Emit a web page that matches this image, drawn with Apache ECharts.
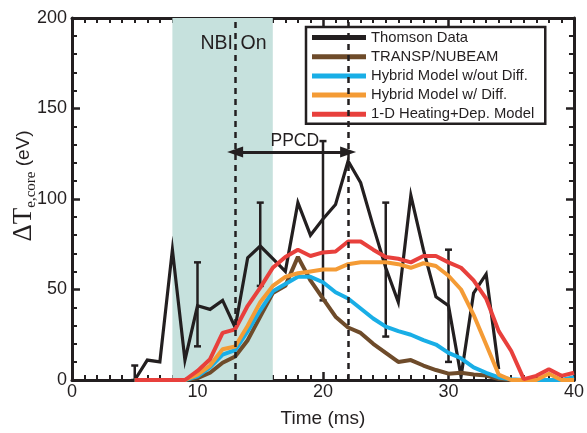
<!DOCTYPE html>
<html>
<head>
<meta charset="utf-8">
<script src="https://cdn.jsdelivr.net/npm/echarts@6/dist/echarts.min.js"></script>
<style>
html,body{margin:0;padding:0;background:#fff;}
#chart{width:587px;height:433px;}
</style>
</head>
<body>
<div id="chart"></div>
<script>
// ---- data ----
const thomsonTime = [5,6,7,8,9,10,11,12,13,14,15,16,17,18,19,20,21,22,23,24,25,26,27,28,29,30,31,32,33,34];
const thomsonTe   = [0,11,10,72,11,41,39,44,29,67.5,74,67,60,98,80,89,97,121,109,85,62,43,102,72,46,41,2,48,58.5,6];

const errorTime = [5,10,15,20,25,30];
const errorLow  = [0,18.6,52,44,24,10];
const errorHigh = [8,65,98,132,98,72];

const modelTime = [5,6,7,8,9,10,11,12,13,14,15,16,17,18,19,20,21,22,23,24,25,26,27,28,29,30,31,32,33,34,35,36,37,38,39,40];
const transpNubeam = [0,0,0,0,0, 1,4,9.5,13,22, 35,48,52,68,55, 45,35,29,26,20, 15,10,11,8,5.5, 3.5,4,3,2.5,0.5, 0,0,0,0,0, 0];
const hybridNoDiff = [0,0,0,0,0, 2,7,14,16.5,27, 38.5,49,53,57,57, 54,48.5,45,39.5,34, 29.5,27,25,22,19.6, 15,12,7,4,1.4, 0.4,0,0,0,0, 1.5];
const hybridDiff   = [0,0,0,0,0, 3,8,17,18.5,30, 43,52,57,59,60, 61,61,64,65,65, 65,64,62,64.5,63, 57.6,50,36,19.6,3, 0,0,0,3.5,0, 0];
const heating1D    = [0,0,0,0,0, 5,11.5,26,28,41, 51,62,68,72,68.5, 70.5,71,76.5,76.5,72, 68,67,65,68.5,68.5, 65,62,55,45,27, 16,0.5,2.3,6,2.3, 4];

const nbiStart = 8, nbiEnd = 16;
const ppcdStart = 13, ppcdEnd = 22;
const ppcdArrowLevel = 126;

const xTicks = {min: 0, max: 40, interval: 10};
const yTicks = {min: 0, max: 200, interval: 50};

const seriesNames = ['Thomson Data','TRANSP/NUBEAM','Hybrid Model w/out Diff.','Hybrid Model w/ Diff.','1-D Heating+Dep. Model'];
const colors = ['#231f20','#6e4b2a','#19aee6','#f49b35','#e8403c'];

// ---- chart ----
const INK = '#231f20';
const FONT = '"Liberation Sans", Arial, Helvetica, sans-serif';
const chart = echarts.init(document.getElementById('chart'), null, {renderer:'canvas'});

const pair = (xs, ys) => xs.map((x, i) => [x, ys[i]]);

function axisCommon(showLabel, pos) {
  return {
    axisLine: {show: true, onZero: false, lineStyle: {color: INK, width: 3}},
    axisTick: {show: true, inside: true, length: 8, lineStyle: {color: INK, width: 2.5}},
    minorTick: {show: true, length: 5, lineStyle: {color: INK, width: 2}},
    splitLine: {show: false},
    minorSplitLine: {show: false},
    axisLabel: {show: showLabel, color: INK, fontSize: 18, fontFamily: FONT},
    position: pos
  };
}

const option = {
  animation: false,
  backgroundColor: '#fff',
  grid: {left: 72, right: 8, top: 18, bottom: 47, containLabel: false},
  xAxis: [
    Object.assign(axisCommon(true, 'bottom'), {
      type: 'value', min: xTicks.min, max: xTicks.max, interval: xTicks.interval,
      minorTick: {show: true, splitNumber: 10, length: 5, lineStyle: {color: INK, width: 2}},
      axisLabel: {show: true, color: INK, fontSize: 18, fontFamily: FONT, margin: 3},
      name: 'Time (ms)', nameLocation: 'middle', nameGap: 29,
      nameTextStyle: {color: INK, fontSize: 19, fontFamily: FONT}
    }),
    Object.assign(axisCommon(false, 'top'), {
      type: 'value', min: xTicks.min, max: xTicks.max, interval: xTicks.interval,
      minorTick: {show: true, splitNumber: 10, length: 5, lineStyle: {color: INK, width: 2}}
    })
  ],
  yAxis: [
    Object.assign(axisCommon(true, 'left'), {
      type: 'value', min: yTicks.min, max: yTicks.max, interval: yTicks.interval,
      minorTick: {show: true, splitNumber: 5, length: 5, lineStyle: {color: INK, width: 2}},
      axisLabel: {show: true, color: INK, fontSize: 18, fontFamily: FONT, margin: 5}
    }),
    Object.assign(axisCommon(false, 'right'), {
      type: 'value', min: yTicks.min, max: yTicks.max, interval: yTicks.interval,
      minorTick: {show: true, splitNumber: 5, length: 5, lineStyle: {color: INK, width: 2}}
    })
  ],
  legend: {
    data: seriesNames,
    orient: 'vertical',
    left: 306, top: 27,
    padding: [3, 11, 2, 6],
    itemGap: 4.2,
    itemWidth: 54, itemHeight: 5,
    icon: 'rect',
    borderColor: INK, borderWidth: 2.5, borderRadius: 0,
    backgroundColor: 'transparent',
    textStyle: {color: INK, fontSize: 14.8, fontFamily: FONT, lineHeight: 15},
    selectedMode: false
  },
  graphic: [
    {type: 'text', x: 233, y: 44, silent: true, z: 10,
     style: {text: 'NBI', fill: INK, font: '19.5px ' + FONT, align: 'right', textAlign: 'right', verticalAlign: 'middle', textVerticalAlign: 'middle'}},
    {type: 'text', x: 240.5, y: 44, silent: true, z: 10,
     style: {text: 'On', fill: INK, font: '19.5px ' + FONT, align: 'left', textAlign: 'left', verticalAlign: 'middle', textVerticalAlign: 'middle'}},
    {type: 'text', x: 270.5, y: 141, silent: true, z: 10,
     style: {text: 'PPCD', fill: INK, font: '17.5px ' + FONT, align: 'left', textAlign: 'left', verticalAlign: 'middle', textVerticalAlign: 'middle'}},
    {type: 'text', x: 24, y: 186, rotation: Math.PI / 2, silent: true, z: 10,
     style: {
       text: '{d|ΔT}{s|e,core}{u| (eV)}',
       align: 'center', textAlign: 'center', verticalAlign: 'middle', textVerticalAlign: 'middle',
       fill: INK,
       rich: {
         d: {fontFamily: '"Liberation Serif", "Times New Roman", serif', fontSize: 27, lineHeight: 30, fill: INK, color: INK},
         s: {fontFamily: '"Liberation Serif", "Times New Roman", serif', fontSize: 15, lineHeight: 20, verticalAlign: 'bottom', fill: INK, color: INK},
         u: {fontFamily: FONT, fontSize: 19, lineHeight: 30, fill: INK, color: INK}
       }
     }}
  ],
  series: [
    {
      // background annotations (NBI window, PPCD markers)
      type: 'line', name: '_markers', z: -1,
      data: [[nbiStart, 0]], showSymbol: false, lineStyle: {width: 0}, silent: true,
      markArea: {
        silent: true,
        itemStyle: {color: '#c6e1dd', opacity: 1},
        data: [[{xAxis: nbiStart}, {xAxis: nbiEnd}]]
      },
      markLine: {
        silent: true, symbol: 'none', label: {show: false},
        lineStyle: {color: INK, type: [6, 5], width: 2.5},
        data: [{xAxis: ppcdStart}, {xAxis: ppcdEnd}]
      }
    },
    {
      type: 'line', name: seriesNames[0], data: pair(thomsonTime, thomsonTe),
      showSymbol: false, symbol: 'none', z: 2,
      lineStyle: {color: colors[0], width: 3.2, join: 'miter'},
      itemStyle: {color: colors[0]},
      markLine: {
        silent: true, symbol: ['triangle', 'triangle'], symbolSize: [11, 16],
        label: {show: false},
        lineStyle: {color: INK, type: 'solid', width: 3},
        data: [[{coord: [ppcdStart, ppcdArrowLevel]}, {coord: [ppcdEnd, ppcdArrowLevel]}]]
      }
    },
    {
      type: 'custom', name: '_errors', z: 2,
      data: errorTime.map((t, i) => [t, errorLow[i], errorHigh[i]]),
      encode: {x: 0, y: [1, 2]},
      renderItem: function (params, api) {
        const x = api.value(0);
        const lo = api.coord([x, api.value(1)]);
        const hi = api.coord([x, api.value(2)]);
        const w = 3.5;
        const st = {stroke: INK, lineWidth: 2.5};
        return {type: 'group', children: [
          {type: 'line', shape: {x1: lo[0], y1: lo[1], x2: hi[0], y2: hi[1]}, style: st},
          {type: 'line', shape: {x1: hi[0] - w, y1: hi[1], x2: hi[0] + w, y2: hi[1]}, style: st},
          {type: 'line', shape: {x1: lo[0] - w, y1: lo[1], x2: lo[0] + w, y2: lo[1]}, style: st}
        ]};
      }
    },
    {type: 'line', name: seriesNames[1], data: pair(modelTime, transpNubeam), showSymbol: false, symbol: 'none', z: 3,
     lineStyle: {color: colors[1], width: 4}, itemStyle: {color: colors[1]}},
    {type: 'line', name: seriesNames[2], data: pair(modelTime, hybridNoDiff), showSymbol: false, symbol: 'none', z: 3,
     lineStyle: {color: colors[2], width: 4}, itemStyle: {color: colors[2]}},
    {type: 'line', name: seriesNames[3], data: pair(modelTime, hybridDiff), showSymbol: false, symbol: 'none', z: 3,
     lineStyle: {color: colors[3], width: 4}, itemStyle: {color: colors[3]}},
    {type: 'line', name: seriesNames[4], data: pair(modelTime, heating1D), showSymbol: false, symbol: 'none', z: 3,
     lineStyle: {color: colors[4], width: 4}, itemStyle: {color: colors[4]}}
  ]
};
chart.setOption(option);
</script>
</body>
</html>
